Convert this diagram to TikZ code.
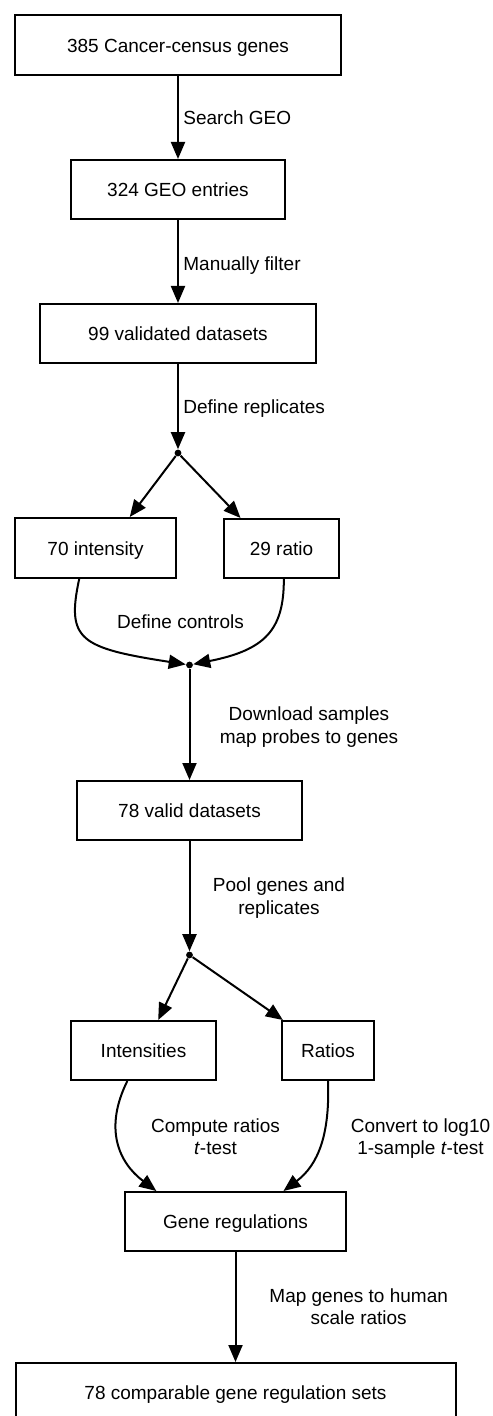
\documentclass[tikz,border=0pt]{standalone}
\usepackage{fontspec}
\setmainfont{Liberation Sans}
\usetikzlibrary{arrows.meta,calc}
\begin{document}
\begin{tikzpicture}[x=0.5pt,y=-0.5pt,
  every node/.style={font=\fontsize{9.5}{11.2}\selectfont},
  box/.style={draw,line width=1pt,inner sep=0pt,text height=0.72em,text depth=0pt},
  jdot/.style={circle,fill,inner sep=0pt,minimum size=3.4pt},
  flow/.style={line width=1pt,-{Triangle[length=8.5pt,width=7pt]}},
  lbl/.style={inner sep=0pt,align=center}]
\useasboundingbox (0,0) rectangle (492,1416);
% boxes
\node[box,minimum width=163pt,minimum height=30pt] (b1) at (178,45) {385 Cancer-census genes};
\node[box,minimum width=107pt,minimum height=29.5pt] (b2) at (178,189.5) {324 GEO entries};
\node[box,minimum width=138pt,minimum height=29.5pt] (b3) at (178,333.5) {99 validated datasets};
\node[box,minimum width=80.5pt,minimum height=30pt] (b4) at (95.5,548) {70 intensity};
\node[box,minimum width=57.5pt,minimum height=29.5pt] (b5) at (281.5,548.5) {29 ratio};
\node[box,minimum width=112.5pt,minimum height=29.5pt] (b6) at (189.5,810.5) {78 valid datasets};
\node[box,minimum width=72.5pt,minimum height=29.5pt] (b7) at (143.5,1050.5) {Intensities};
\node[box,minimum width=46pt,minimum height=29.5pt] (b8) at (328,1050.5) {Ratios};
\node[box,minimum width=110.5pt,minimum height=29.5pt] (b9) at (235.5,1221.5) {Gene regulations};
\node[box,minimum width=220pt,minimum height=29pt] (b10) at (235.5,1392) {78 comparable gene regulation sets};
% junctions
\node[jdot] (j1) at (178,453) {};
\node[jdot] (j2) at (189.5,665) {};
\node[jdot] (j3) at (189.5,955) {};
% connectors
\draw[flow] (b1.south) -- (b2.north);
\draw[flow] (b2.south) -- (b3.north);
\draw[flow] (b3.south) -- (j1);
\draw[flow] (j1) -- ($(b4.north west)!0.71!(b4.north east)$);
\draw[flow] (j1) -- ($(b5.north west)!0.15!(b5.north east)$);
\draw[flow] ($(b4.south west)!0.40!(b4.south east)$) .. controls (66,640) and (80,648) .. (j2);
\draw[flow] ($(b5.south west)!0.52!(b5.south east)$) .. controls (284,630) and (265,650) .. (j2);
\draw[flow] (j2) -- (b6.north);
\draw[flow] (b6.south) -- (j3);
\draw[flow] (j3) -- ($(b7.north west)!0.60!(b7.north east)$);
\draw[flow] (j3) -- ($(b8.north west)!0.02!(b8.north east)$);
\draw[flow] ($(b7.south west)!0.39!(b7.south east)$) .. controls (104,1128) and (118,1162) .. ($(b9.north west)!0.145!(b9.north east)$);
\draw[flow] (b8.south) .. controls (330,1135) and (318,1165) .. ($(b9.north west)!0.715!(b9.north east)$);
\draw[flow] (b9.south) -- (b10.north);
% labels
\node[lbl,anchor=base west] (l1) at (183,125) {Search GEO};
\node[lbl,anchor=base west] (l2) at (183,270.5) {Manually filter};
\node[lbl,anchor=base west] (l3) at (183,414) {Define replicates};
\node[lbl,anchor=base] (l4) at (180.5,628) {Define controls};
\node[lbl,anchor=north] (l5) at (309,706.7) {Download samples\\map probes to genes};
\node[lbl,anchor=north] (l6) at (279,877.7) {Pool genes and\\replicates};
\node[lbl,anchor=north] (l7) at (215.5,1118.3) {Compute ratios\\\textit{t}-test};
\node[lbl,anchor=north] (l8) at (420.5,1118.3) {Convert to log10\\1-sample \textit{t}-test};
\node[lbl,anchor=north] (l9) at (358.7,1288.3) {Map genes to human\\scale ratios};
\end{tikzpicture}
\end{document}
